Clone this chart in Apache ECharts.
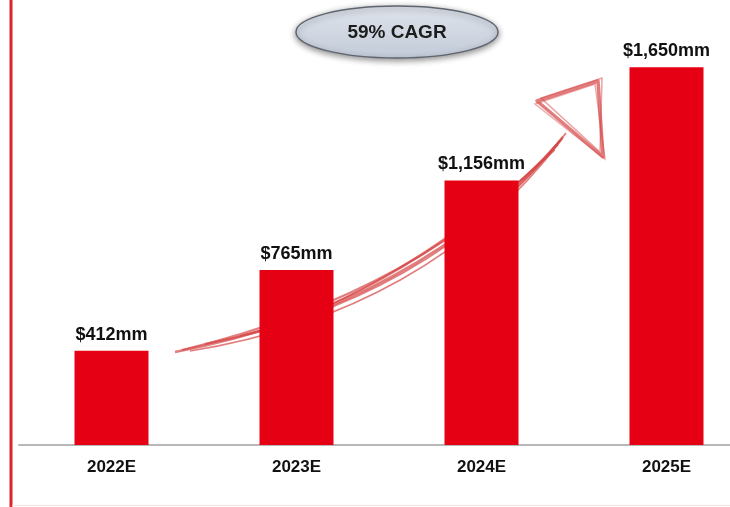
<!DOCTYPE html>
<html>
<head>
<meta charset="utf-8">
<script src="https://cdn.jsdelivr.net/npm/echarts@6/dist/echarts.min.js"></script>
<style>
  html, body { margin: 0; padding: 0; background: #fff; }
  #main { width: 730px; height: 507px; }
</style>
</head>
<body>
<div id="main"></div>
<script>
// data
var years = ['2022E', '2023E', '2024E', '2025E']
var revenue = [412, 765, 1156, 1650]
var cagrText = '59% CAGR'

var chart = echarts.init(document.getElementById('main'))

function fmt(v) {
	return '$' + v.toString().replace(/\B(?=(\d{3})+(?!\d))/g, ',') + 'mm'
}

//手绘风格的箭头
var arrowColor = 'rgba(214,70,70,0.7)'
var arrowParts = [
	{shape: {x1: 175, y1: 352, x2: 563, y2: 137, cpx1: 330, cpy1: 322, cpx2: 470, cpy2: 252}, w: 2.6},
	{shape: {x1: 182, y1: 350, x2: 560, y2: 141, cpx1: 336, cpy1: 313, cpx2: 466, cpy2: 246}, w: 2.2},
	{shape: {x1: 205, y1: 344, x2: 566, y2: 133, cpx1: 342, cpy1: 318, cpx2: 476, cpy2: 250}, w: 1.8},
	{shape: {x1: 240, y1: 336, x2: 558, y2: 145, cpx1: 350, cpy1: 308, cpx2: 462, cpy2: 241}, w: 1.5},
	{shape: {x1: 190, y1: 351, x2: 562, y2: 139, cpx1: 345, cpy1: 326, cpx2: 474, cpy2: 256}, w: 1.6},
	{shape: {x1: 260, y1: 333, x2: 555, y2: 150, cpx1: 360, cpy1: 300, cpx2: 458, cpy2: 238}, w: 1.4}
]
var graphics = []
arrowParts.forEach(function(p) {
	graphics.push({
		type: 'bezierCurve', z: 0, silent: true,
		shape: p.shape,
		style: {stroke: arrowColor, lineWidth: p.w, fill: null}
	})
})
graphics.push({
	type: 'polygon', z: 0, silent: true,
	shape: {points: [[537, 101], [598, 81], [603, 157]]},
	style: {stroke: arrowColor, lineWidth: 3.5, fill: null, lineJoin: 'round'}
})
graphics.push({
	type: 'polygon', z: 0, silent: true,
	shape: {points: [[541, 98], [602, 78], [600, 152]]},
	style: {stroke: 'rgba(214,70,70,0.5)', lineWidth: 1.5, fill: null}
})
graphics.push({
	type: 'polygon', z: 0, silent: true,
	shape: {points: [[535, 104], [595, 84], [605, 159]]},
	style: {stroke: 'rgba(214,70,70,0.45)', lineWidth: 1.5, fill: null}
})
//左侧红线与底部边线
graphics.push({
	type: 'line', z: 5, silent: true,
	shape: {x1: 11, y1: 0, x2: 11, y2: 507},
	style: {stroke: '#d8262e', lineWidth: 3}
})
graphics.push({
	type: 'line', z: 5, silent: true,
	shape: {x1: 12, y1: 505.5, x2: 730, y2: 505.5},
	style: {stroke: '#fbe1e1', lineWidth: 1}
})
//CAGR 椭圆
graphics.push({
	type: 'ellipse', z: 10, silent: true,
	shape: {cx: 397, cy: 32, rx: 101, ry: 26},
	style: {
		fill: new echarts.graphic.LinearGradient(0, 0, 0, 1, [
			{offset: 0, color: '#dfe4ec'},
			{offset: 1, color: '#c3cbd9'}
		]),
		stroke: '#5f6670', lineWidth: 1.5,
		shadowBlur: 6, shadowColor: 'rgba(0,0,0,0.45)', shadowOffsetY: 2
	}
})
graphics.push({
	type: 'text', z: 11, silent: true,
	x: 397, y: 33,
	style: {
		text: cagrText, fill: '#1c1c1c',
		font: 'bold 19px "Liberation Sans", Arial, sans-serif',
		align: 'center', verticalAlign: 'middle'
	}
})

chart.setOption({
	animation: false,
	backgroundColor: '#fff',
	grid: {left: 19, top: 33, width: 740, height: 412, outerBoundsMode: 'none', containLabel: false},
	xAxis: {
		type: 'category',
		data: years,
		axisLine: {lineStyle: {color: '#b8b8b8', width: 2}},
		axisTick: {show: false},
		axisLabel: {
			margin: 14,
			color: '#111',
			fontFamily: '"Liberation Sans", Arial, sans-serif',
			fontWeight: 'bold',
			fontSize: 17
		}
	},
	yAxis: {
		type: 'value', min: 0, max: 1800,
		show: false,
		splitLine: {show: false}
	},
	series: [{
		type: 'bar',
		data: revenue,
		barWidth: 74,
		z: 2,
		itemStyle: {color: '#e60014'},
		label: {
			show: true,
			position: 'top',
			distance: 7,
			color: '#111',
			fontFamily: '"Liberation Sans", Arial, sans-serif',
			fontWeight: 'bold',
			fontSize: 18,
			formatter: function(p) { return fmt(p.value) }
		}
	}],
	graphic: graphics
})
</script>
</body>
</html>
